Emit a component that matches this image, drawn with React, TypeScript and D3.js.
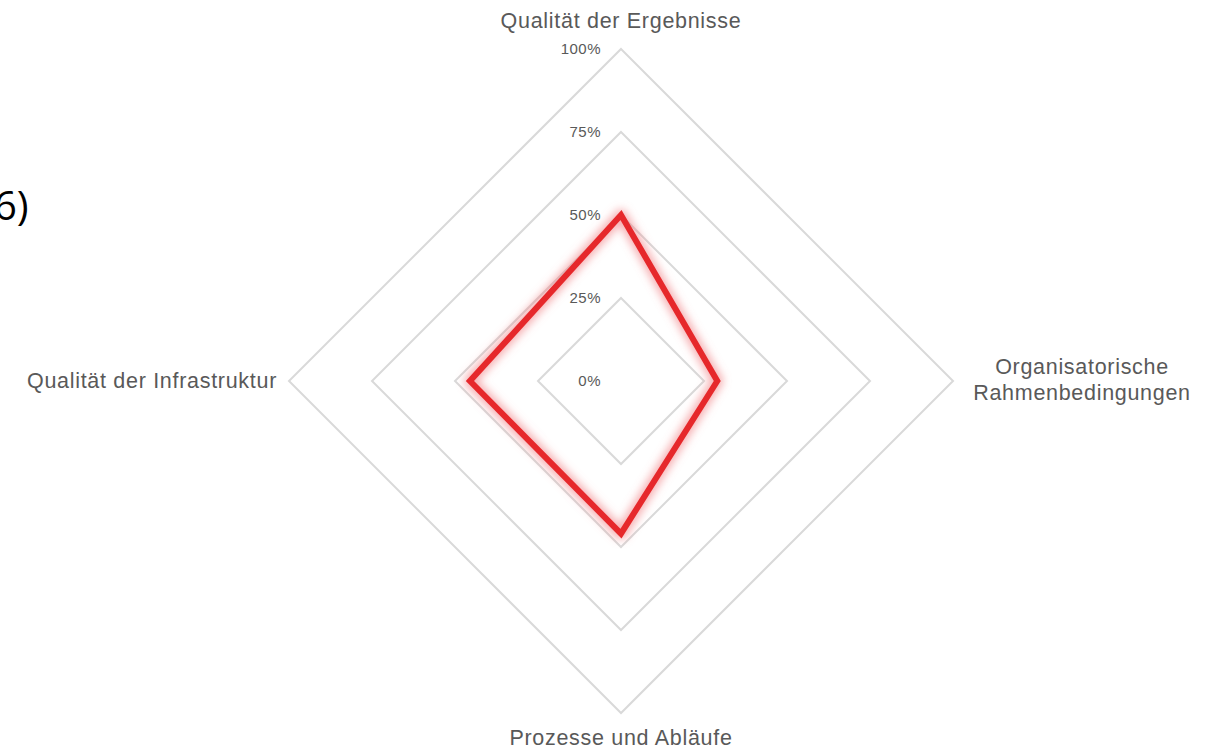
import React from "react";
import * as d3 from "d3";

const categories = [
  "Qualität der Ergebnisse",
  "Organisatorische\nRahmenbedingungen",
  "Prozesse und Abläufe",
  "Qualität der Infrastruktur",
];
const values = [0.5, 0.29, 0.46, 0.455];
const ticks = [0, 0.25, 0.5, 0.75, 1];
const tickLabels = ["0%", "25%", "50%", "75%", "100%"];

const W = 1225;
const H = 753;
const cx = 621;
const cy = 381;
const R = 332;

export default function App() {
  const r = d3.scaleLinear().domain([0, 1]).range([0, R]);
  const angle = (i: number) => -Math.PI / 2 + (i * 2 * Math.PI) / categories.length;
  const pt = (i: number, v: number): [number, number] => [
    cx + Math.cos(angle(i)) * r(v),
    cy + Math.sin(angle(i)) * r(v),
  ];
  const line = d3.line<[number, number]>().curve(d3.curveLinearClosed);
  const gridPaths = ticks.map((t) => line(categories.map((_, i) => pt(i, t)))!);
  const dataPath = line(values.map((v, i) => pt(i, v)))!;

  const labelFont = "'Liberation Sans', Arial, sans-serif";
  const labelColor = "#595959";
  const fs = 21.5;
  const ls = 0.7;

  return (
    <svg width={W} height={H} style={{ position: "absolute", left: 0, top: 0, background: "#fff" }}>
      <defs>
        <filter id="glow" x="-20%" y="-20%" width="140%" height="140%">
          <feGaussianBlur stdDeviation="4" />
        </filter>
      </defs>
      <text x={-6} y={220} fontFamily="'Open Sans', 'Noto Sans', sans-serif" fontSize={40} fill="#000">
        6)
      </text>
      {gridPaths.map((d, i) => (
        <path key={i} d={d} fill="none" stroke="#d9d9d9" strokeWidth={2} />
      ))}
      {ticks.map((t, i) => (
        <text
          key={i}
          x={cx - 20}
          y={cy - r(t)}
          dy="0.35em"
          textAnchor="end"
          fontFamily={labelFont}
          fontSize={15}
          letterSpacing={0.5}
          fill={labelColor}
        >
          {tickLabels[i]}
        </text>
      ))}
      <path d={dataPath} fill="none" stroke="#f07c7e" strokeOpacity={0.6} strokeWidth={12} strokeLinejoin="round" filter="url(#glow)" />
      <path d={dataPath} fill="none" stroke="#e6282b" strokeWidth={6} strokeLinejoin="miter" />
      <text x={cx} y={28} textAnchor="middle" fontFamily={labelFont} fontSize={fs} letterSpacing={ls} fill={labelColor}>
        {categories[0]}
      </text>
      <text textAnchor="middle" fontFamily={labelFont} fontSize={fs} letterSpacing={ls} fill={labelColor}>
        {categories[1].split("\n").map((s, j) => (
          <tspan key={j} x={1082} y={374 + j * 26}>
            {s}
          </tspan>
        ))}
      </text>
      <text x={cx} y={745} textAnchor="middle" fontFamily={labelFont} fontSize={fs} letterSpacing={ls} fill={labelColor}>
        {categories[2]}
      </text>
      <text x={277} y={388} textAnchor="end" fontFamily={labelFont} fontSize={fs} letterSpacing={ls} fill={labelColor}>
        {categories[3]}
      </text>
    </svg>
  );
}
